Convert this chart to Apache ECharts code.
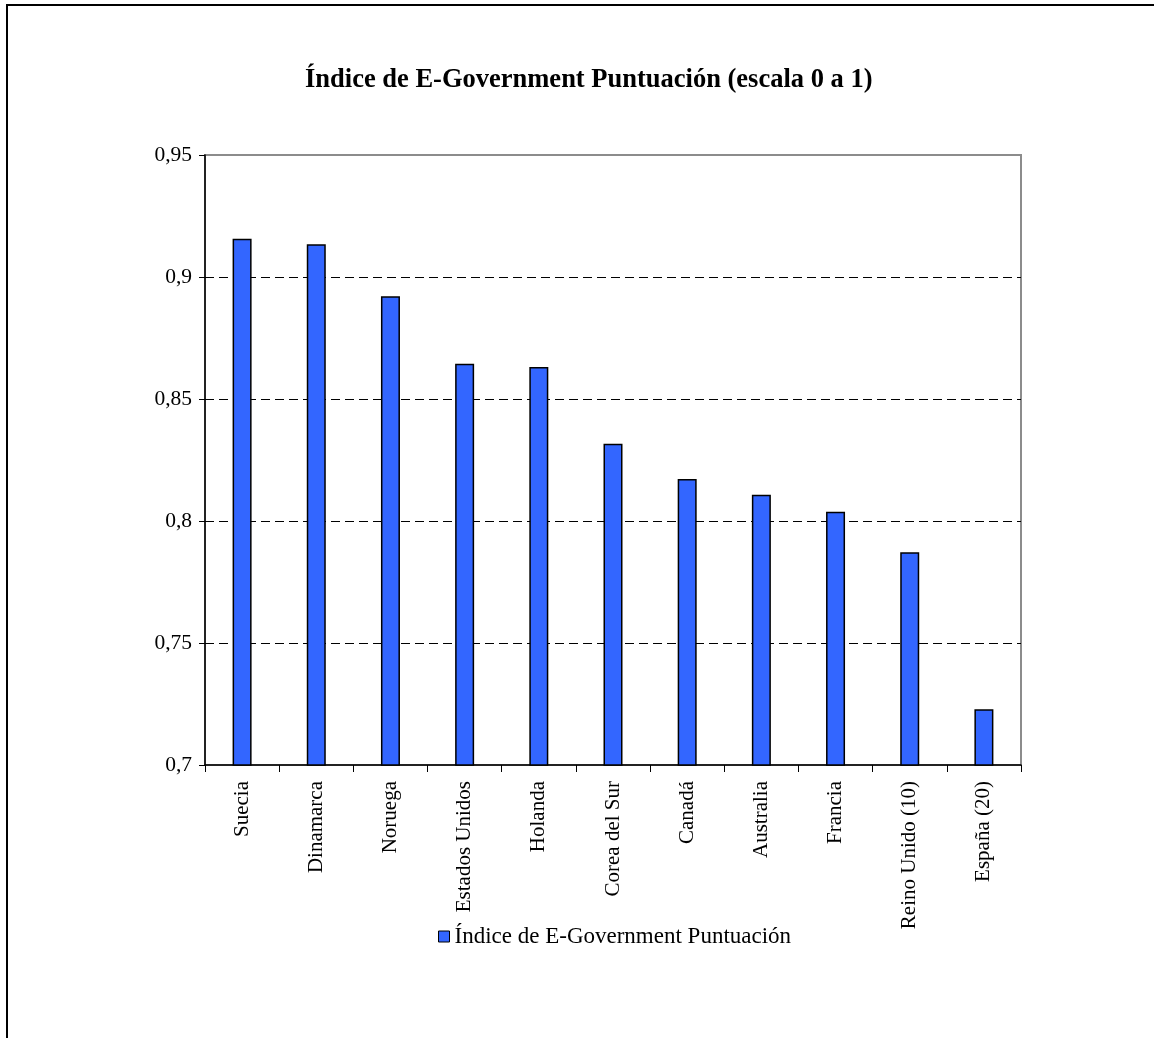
<!DOCTYPE html>
<html>
<head>
<meta charset="utf-8">
<script src="https://cdn.jsdelivr.net/npm/echarts@6/dist/echarts.min.js"></script>
<style>
html,body{margin:0;padding:0;background:#fff;}
#chart{width:1154px;height:1038px;}
</style>
</head>
<body>
<div id="chart"></div>
<script>
var titleText = 'Índice de E-Government Puntuación (escala 0 a 1)';
var seriesName = 'Índice de E-Government Puntuación';
var categories = ['Suecia','Dinamarca','Noruega','Estados Unidos','Holanda','Corea del Sur','Canadá','Australia','Francia','Reino Unido (10)','España (20)'];
var values = [0.9157,0.9134,0.8921,0.8644,0.8631,0.8317,0.8172,0.8108,0.8038,0.7872,0.7228];
var yMin = 0.7, yMax = 0.95, yStep = 0.05;

var serif = '"Liberation Serif","Times New Roman",serif';
var chart = echarts.init(document.getElementById('chart'));
chart.setOption({
  animation:false,
  backgroundColor:'#fff',
  title:{
    text:titleText,
    left:300, top:62,
    textStyle:{fontFamily:serif,fontWeight:'bold',fontSize:26.5,color:'#000'}
  },
  legend:{
    data:[seriesName],
    left:433, top:920,
    icon:'rect', itemWidth:11, itemHeight:11, itemGap:8,
    textStyle:{fontFamily:serif,fontSize:23,color:'#000'},
    itemStyle:{borderColor:'#000',borderWidth:1}
  },
  grid:{left:205, top:155, width:816, height:610, show:true, borderColor:'#8c8c8c', borderWidth:2, backgroundColor:'transparent'},
  xAxis:{
    type:'category', data:categories,
    axisLine:{lineStyle:{color:'#000',width:1.5}},
    axisTick:{show:true,length:7,lineStyle:{color:'#000'}},
    axisLabel:{rotate:90, margin:16, color:'#000', fontFamily:serif, fontSize:21, interval:0}
  },
  yAxis:{
    type:'value', min:yMin, max:yMax, interval:yStep,
    axisLine:{show:true,lineStyle:{color:'#000',width:1.5}},
    axisTick:{show:true,length:6,lineStyle:{color:'#000'}},
    axisLabel:{margin:13, color:'#000', fontFamily:serif, fontSize:21.5,
      formatter:function(v){return (Math.round(v*100)/100).toString().replace('.',',');}},
    splitLine:{show:true,showMinLine:false,showMaxLine:false,lineStyle:{color:'#000',type:[9,5],width:1}}
  },
  series:[{
    name:seriesName, type:'bar', data:values, barWidth:19,
    itemStyle:{color:'#3366ff',borderColor:'#000',borderWidth:1.5}
  }],
  graphic:[{
    type:'rect', silent:true, z:100,
    shape:{x:7,y:5,width:2000,height:2000},
    style:{fill:null,stroke:'#000',lineWidth:2}
  }]
});
</script>
</body>
</html>
